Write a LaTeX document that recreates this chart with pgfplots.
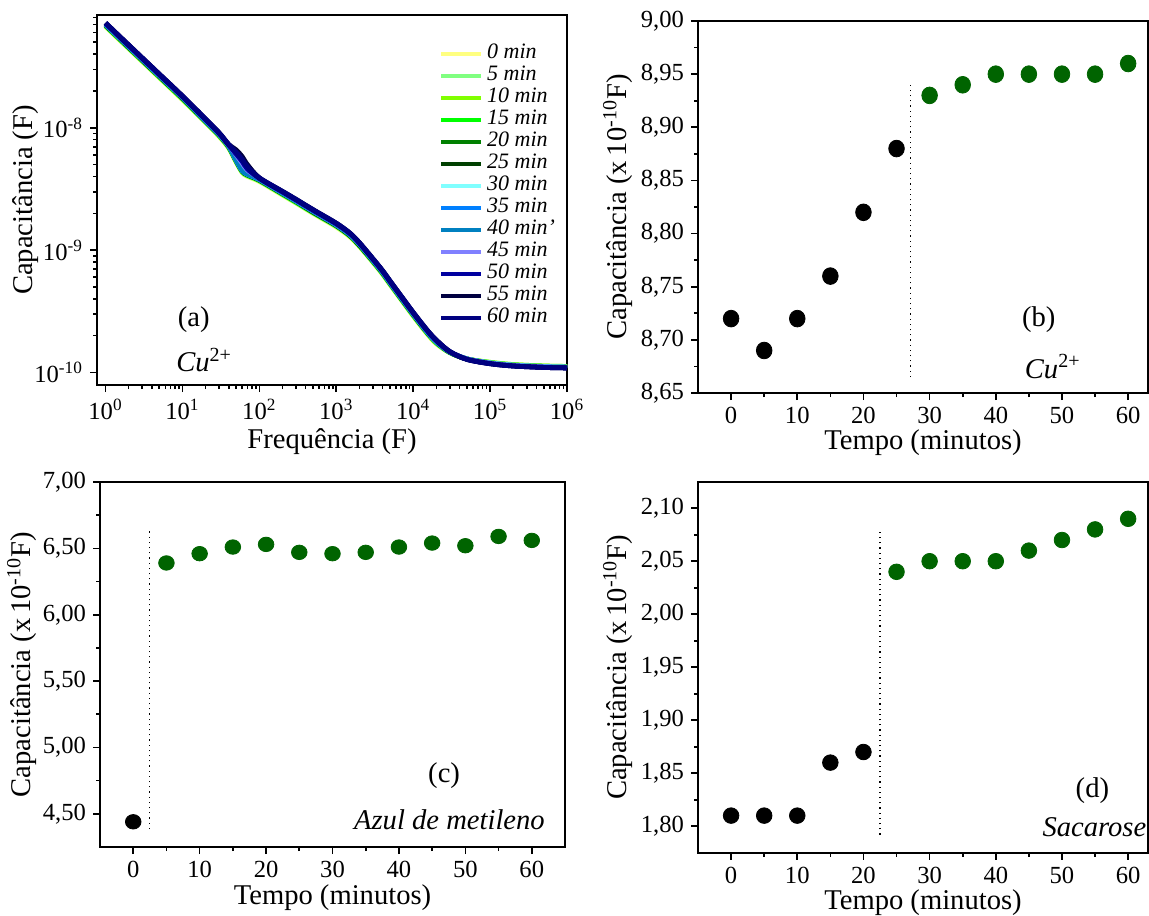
\documentclass[border=0pt]{standalone}
\usepackage{pgfplots}
\pgfplotsset{compat=1.18}
\usepackage{pgfplotstable}
\usepackage{fontspec}
\setmainfont{Liberation Serif}

\newcommand{\tickfont}{\fontsize{12.3}{14}\selectfont}
\newcommand{\labfont}{\fontsize{14.3}{17}\selectfont}

\definecolor{c0}{RGB}{255,255,128}
\definecolor{c5}{RGB}{128,255,128}
\definecolor{c10}{RGB}{128,255,0}
\definecolor{c15}{RGB}{0,255,0}
\definecolor{c20}{RGB}{0,128,0}
\definecolor{c25}{RGB}{0,64,0}
\definecolor{c30}{RGB}{128,255,255}
\definecolor{c35}{RGB}{0,128,255}
\definecolor{c40}{RGB}{0,128,192}
\definecolor{c45}{RGB}{128,128,255}
\definecolor{c50}{RGB}{0,0,160}
\definecolor{c55}{RGB}{0,0,64}
\definecolor{c60}{RGB}{0,0,128}
\definecolor{dgreen}{RGB}{0,100,0}

\pgfplotstableread{
f c0 c5 c10 c15 c20 c25 c30 c35 c40 c45 c50 c55 c60
1 6.70e-8 6.77e-8 6.84e-8 6.84e-8 6.91e-8 6.91e-8 6.98e-8 6.98e-8 7.06e-8 7.13e-8 7.13e-8 7.20e-8 7.20e-8
2 4.42e-8 4.47e-8 4.51e-8 4.51e-8 4.56e-8 4.56e-8 4.61e-8 4.61e-8 4.66e-8 4.70e-8 4.70e-8 4.75e-8 4.75e-8
5 2.56e-8 2.59e-8 2.61e-8 2.61e-8 2.64e-8 2.64e-8 2.67e-8 2.67e-8 2.70e-8 2.72e-8 2.72e-8 2.75e-8 2.75e-8
10 1.69e-8 1.71e-8 1.73e-8 1.73e-8 1.75e-8 1.75e-8 1.77e-8 1.77e-8 1.78e-8 1.80e-8 1.80e-8 1.82e-8 1.82e-8
20 1.10e-8 1.11e-8 1.12e-8 1.12e-8 1.13e-8 1.13e-8 1.14e-8 1.14e-8 1.16e-8 1.17e-8 1.17e-8 1.18e-8 1.18e-8
30 8.46e-9 8.55e-9 8.65e-9 8.65e-9 8.74e-9 8.74e-9 8.83e-9 8.83e-9 8.92e-9 9.01e-9 9.01e-9 9.10e-9 9.10e-9
40 6.79e-9 6.86e-9 6.94e-9 6.94e-9 7.01e-9 7.01e-9 7.08e-9 7.08e-9 7.15e-9 7.23e-9 7.23e-9 7.30e-9 7.30e-9
50 5.21e-9 5.26e-9 5.32e-9 5.32e-9 5.38e-9 5.38e-9 5.43e-9 5.43e-9 5.49e-9 6.00e-9 6.10e-9 6.60e-9 6.30e-9
60 4.28e-9 4.32e-9 4.37e-9 4.37e-9 4.42e-9 4.42e-9 4.46e-9 4.46e-9 4.51e-9 5.10e-9 5.30e-9 5.80e-9 5.50e-9
70 4.00e-9 4.04e-9 4.09e-9 4.09e-9 4.13e-9 4.13e-9 4.17e-9 4.17e-9 4.21e-9 4.50e-9 4.60e-9 5.00e-9 4.80e-9
100 3.63e-9 3.67e-9 3.71e-9 3.71e-9 3.74e-9 3.74e-9 3.78e-9 3.78e-9 3.82e-9 3.86e-9 3.86e-9 3.90e-9 3.90e-9
200 2.81e-9 2.84e-9 2.87e-9 2.87e-9 2.90e-9 2.90e-9 2.93e-9 2.93e-9 2.96e-9 2.99e-9 2.99e-9 3.02e-9 3.02e-9
300 2.42e-9 2.44e-9 2.47e-9 2.47e-9 2.50e-9 2.50e-9 2.52e-9 2.52e-9 2.55e-9 2.57e-9 2.57e-9 2.60e-9 2.60e-9
500 1.99e-9 2.01e-9 2.03e-9 2.03e-9 2.05e-9 2.05e-9 2.08e-9 2.08e-9 2.10e-9 2.12e-9 2.12e-9 2.14e-9 2.14e-9
1000 1.54e-9 1.56e-9 1.58e-9 1.58e-9 1.59e-9 1.59e-9 1.61e-9 1.61e-9 1.63e-9 1.64e-9 1.64e-9 1.66e-9 1.66e-9
1500 1.28e-9 1.30e-9 1.31e-9 1.31e-9 1.32e-9 1.32e-9 1.34e-9 1.34e-9 1.35e-9 1.37e-9 1.37e-9 1.38e-9 1.38e-9
2000 1.07e-9 1.08e-9 1.09e-9 1.09e-9 1.10e-9 1.10e-9 1.12e-9 1.12e-9 1.13e-9 1.14e-9 1.14e-9 1.15e-9 1.15e-9
3000 7.91e-10 7.99e-10 8.08e-10 8.08e-10 8.16e-10 8.16e-10 8.25e-10 8.25e-10 8.33e-10 8.42e-10 8.42e-10 8.50e-10 8.50e-10
4000 6.32e-10 6.39e-10 6.46e-10 6.46e-10 6.53e-10 6.53e-10 6.60e-10 6.60e-10 6.66e-10 6.73e-10 6.73e-10 6.80e-10 6.80e-10
5000 5.21e-10 5.26e-10 5.32e-10 5.32e-10 5.38e-10 5.38e-10 5.43e-10 5.43e-10 5.49e-10 5.54e-10 5.54e-10 5.60e-10 5.60e-10
7000 3.91e-10 3.95e-10 3.99e-10 3.99e-10 4.03e-10 4.03e-10 4.07e-10 4.07e-10 4.12e-10 4.16e-10 4.16e-10 4.20e-10 4.20e-10
10000 2.88e-10 2.91e-10 2.95e-10 2.95e-10 2.98e-10 2.98e-10 3.01e-10 3.01e-10 3.04e-10 3.07e-10 3.07e-10 3.10e-10 3.10e-10
15000 2.08e-10 2.11e-10 2.13e-10 2.13e-10 2.15e-10 2.15e-10 2.17e-10 2.17e-10 2.20e-10 2.22e-10 2.22e-10 2.24e-10 2.24e-10
20000 1.71e-10 1.73e-10 1.75e-10 1.75e-10 1.77e-10 1.77e-10 1.78e-10 1.78e-10 1.80e-10 1.82e-10 1.82e-10 1.84e-10 1.84e-10
30000 1.45e-10 1.45e-10 1.46e-10 1.46e-10 1.46e-10 1.46e-10 1.47e-10 1.47e-10 1.47e-10 1.48e-10 1.48e-10 1.48e-10 1.48e-10
50000 1.29e-10 1.29e-10 1.29e-10 1.29e-10 1.29e-10 1.29e-10 1.29e-10 1.29e-10 1.29e-10 1.29e-10 1.28e-10 1.28e-10 1.28e-10
100000 1.21e-10 1.21e-10 1.21e-10 1.20e-10 1.20e-10 1.19e-10 1.20e-10 1.19e-10 1.19e-10 1.19e-10 1.18e-10 1.18e-10 1.18e-10
200000 1.16e-10 1.16e-10 1.16e-10 1.15e-10 1.15e-10 1.14e-10 1.15e-10 1.14e-10 1.14e-10 1.14e-10 1.13e-10 1.13e-10 1.13e-10
500000 1.13e-10 1.13e-10 1.13e-10 1.12e-10 1.12e-10 1.11e-10 1.12e-10 1.11e-10 1.11e-10 1.11e-10 1.10e-10 1.10e-10 1.10e-10
1000000 1.12e-10 1.12e-10 1.12e-10 1.11e-10 1.11e-10 1.10e-10 1.11e-10 1.10e-10 1.10e-10 1.10e-10 1.09e-10 1.09e-10 1.09e-10
}\capdata

\pgfplotsset{
  common/.style={
    scale only axis,
    axis line style={line width=0.9pt},
    tick align=outside,
    xtick pos=bottom, ytick pos=left,
    major tick length=3.5pt, minor tick length=2pt,
    every tick/.style={black, line width=0.8pt},
    tick label style={font=\tickfont},
    /pgf/number format/assume math mode=true,
  },
  timeaxis/.style={
    common,
    xtick={0,10,20,30,40,50,60},
    minor x tick num=1,
    xlabel={Tempo (minutos)},
    ylabel={Capacit\^ancia (x\,10\textsuperscript{-10}F)},
    yticklabel style={/pgf/number format/.cd, fixed, fixed zerofill, precision=2, use comma},
    xticklabel style={/pgf/number format/.cd, fixed, precision=0},
    clip=false,
  },
  dotb/.style={only marks, mark=*, mark size=3.9pt, black},
  dotg/.style={only marks, mark=*, mark size=3.9pt, dgreen},
  sep/.style={black, dotted, line width=0.6pt},
  cline/.style={line width=2.4pt, smooth},
}

\begin{document}
\begin{tikzpicture}
\path[use as bounding box] (0,0) rectangle (574.5pt,-457.5pt);

% ---------------- (a)
\begin{axis}[common,
  at={(48.5pt,-192.5pt)}, anchor=south west,
  width=235pt, height=185pt,
  xmode=log, ymode=log,
  xmin=0.775, xmax=1e6, ymin=7.9e-11, ymax=8.35e-8,
  xtick={1,10,100,1000,10000,100000,1000000},
  xticklabels={10\textsuperscript{0},10\textsuperscript{1},10\textsuperscript{2},10\textsuperscript{3},10\textsuperscript{4},10\textsuperscript{5},10\textsuperscript{6}},
  minor xtick={2,3,4,5,6,7,8,9,20,30,40,50,60,70,80,90,200,300,400,500,600,700,800,900,2000,3000,4000,5000,6000,7000,8000,9000,20000,30000,40000,50000,60000,70000,80000,90000,200000,300000,400000,500000,600000,700000,800000,900000},
  ytick={1e-10,1e-9,1e-8},
  yticklabels={10\textsuperscript{-10},10\textsuperscript{-9},10\textsuperscript{-8}},
  minor ytick={2e-10,3e-10,4e-10,5e-10,6e-10,7e-10,8e-10,9e-10,2e-9,3e-9,4e-9,5e-9,6e-9,7e-9,8e-9,9e-9,2e-8,3e-8,4e-8,5e-8,6e-8,7e-8,8e-8},
  xlabel={Frequ\^encia (F)},
  ylabel={Capacit\^ancia (F)},
  every axis x label/.style={at={(axis description cs:0.5,-0.153)}, anchor=center, font=\labfont},
  every axis y label/.style={at={(axis description cs:-0.151,0.5)}, anchor=center, rotate=90, font=\labfont},
  legend style={at={(rel axis cs:0.723,0.93)}, anchor=north west, draw=none, fill=none,
    font=\fontsize{11}{11}\selectfont\itshape, inner sep=1pt, row sep=0pt,
    nodes={inner sep=0pt, text height=7.7pt, text depth=3.3pt},
    /tikz/every odd column/.append style={column sep=2pt}},
  legend cell align=left,
  legend image code/.code={\draw[#1, line width=2pt] (0pt,0pt) -- (20pt,0pt);},
]
\addplot[c0, cline] table[x=f,y=c0] {\capdata}; \addlegendentry{0 min}
\addplot[c5, cline] table[x=f,y=c5] {\capdata}; \addlegendentry{5 min}
\addplot[c10, cline] table[x=f,y=c10] {\capdata}; \addlegendentry{10 min}
\addplot[c15, cline] table[x=f,y=c15] {\capdata}; \addlegendentry{15 min}
\addplot[c20, cline] table[x=f,y=c20] {\capdata}; \addlegendentry{20 min}
\addplot[c25, cline] table[x=f,y=c25] {\capdata}; \addlegendentry{25 min}
\addplot[c30, cline] table[x=f,y=c30] {\capdata}; \addlegendentry{30 min}
\addplot[c35, cline] table[x=f,y=c35] {\capdata}; \addlegendentry{35 min}
\addplot[c40, cline] table[x=f,y=c40] {\capdata}; \addlegendentry{40 min’}
\addplot[c45, cline] table[x=f,y=c45] {\capdata}; \addlegendentry{45 min}
\addplot[c50, cline] table[x=f,y=c50] {\capdata}; \addlegendentry{50 min}
\addplot[c55, cline] table[x=f,y=c55] {\capdata}; \addlegendentry{55 min}
\addplot[c60, cline] table[x=f,y=c60] {\capdata}; \addlegendentry{60 min}
\node[font=\labfont] at (rel axis cs:0.206,0.176) {(a)};
\node[font=\labfont] at (rel axis cs:0.228,0.068) {\textit{Cu}\textsuperscript{2+}};
\end{axis}

% ---------------- (b)
\begin{axis}[timeaxis,
  at={(349pt,-196.5pt)}, anchor=south west,
  width=225pt, height=186pt,
  xmin=-5, xmax=63, ymin=8.65, ymax=9.00,
  ytick={8.65,8.70,8.75,8.80,8.85,8.90,8.95,9.00},
  minor y tick num=1,
  every axis x label/.style={at={(axis description cs:0.5,-0.134)}, anchor=center, font=\labfont},
  every axis y label/.style={at={(axis description cs:-0.178,0.5)}, anchor=center, rotate=90, font=\labfont},
]
\addplot[dotb, mark options={yscale=1.07}] coordinates {(0,8.72) (5,8.69) (10,8.72) (15,8.76) (20,8.82) (25,8.88)};
\addplot[dotg, mark options={yscale=1.07}] coordinates {(30,8.93) (35,8.94) (40,8.95) (45,8.95) (50,8.95) (55,8.95) (60,8.96)};
\addplot[sep] coordinates {(27.1,8.665) (27.1,8.942)};
\node[font=\labfont] at (axis cs:46.5,8.719) {(b)};
\node[font=\labfont] at (axis cs:48.6,8.675) {\textit{Cu}\textsuperscript{2+}};
\end{axis}

% ---------------- (c)
\begin{axis}[timeaxis,
  at={(50pt,-423.5pt)}, anchor=south west,
  width=232.5pt, height=182.5pt,
  xmin=-5, xmax=65, ymin=4.25, ymax=7.00,
  ytick={4.5,5.0,5.5,6.0,6.5,7.0},
  minor y tick num=1,
  every axis x label/.style={at={(axis description cs:0.5,-0.14)}, anchor=center, font=\labfont},
  every axis y label/.style={at={(axis description cs:-0.168,0.5)}, anchor=center, rotate=90, font=\labfont},
]
\addplot[dotb, mark options={yscale=0.93}] coordinates {(0,4.44)};
\addplot[dotg, mark options={yscale=0.93}] coordinates {(5,6.39) (10,6.46) (15,6.51) (20,6.53) (25,6.47) (30,6.46) (35,6.47) (40,6.51) (45,6.54) (50,6.52) (55,6.59) (60,6.56)};
\addplot[sep] coordinates {(2.5,4.385) (2.5,6.65)};
\node[font=\labfont] at (axis cs:46.8,4.79) {(c)};
\node[font=\labfont] at (axis cs:47.6,4.455) {\textit{Azul de metileno}};
\end{axis}

% ---------------- (d)
\begin{axis}[timeaxis,
  at={(349pt,-426.35pt)}, anchor=south west,
  width=225pt, height=185.5pt,
  xmin=-5, xmax=63, ymin=1.775, ymax=2.125,
  ytick={1.80,1.85,1.90,1.95,2.00,2.05,2.10},
  minor y tick num=1,
  every axis x label/.style={at={(axis description cs:0.5,-0.135)}, anchor=center, font=\labfont},
  every axis y label/.style={at={(axis description cs:-0.178,0.5)}, anchor=center, rotate=90, font=\labfont},
]
\addplot[dotb] coordinates {(0,1.81) (5,1.81) (10,1.81) (15,1.86) (20,1.87)};
\addplot[dotg] coordinates {(25,2.04) (30,2.05) (35,2.05) (40,2.05) (45,2.06) (50,2.07) (55,2.08) (60,2.09)};
\addplot[sep] coordinates {(22.5,1.792) (22.5,2.08)};
\node[font=\labfont] at (axis cs:54.6,1.834) {(d)};
\node[font=\labfont] at (axis cs:54.9,1.799) {\textit{Sacarose}};
\end{axis}
\end{tikzpicture}
\end{document}
